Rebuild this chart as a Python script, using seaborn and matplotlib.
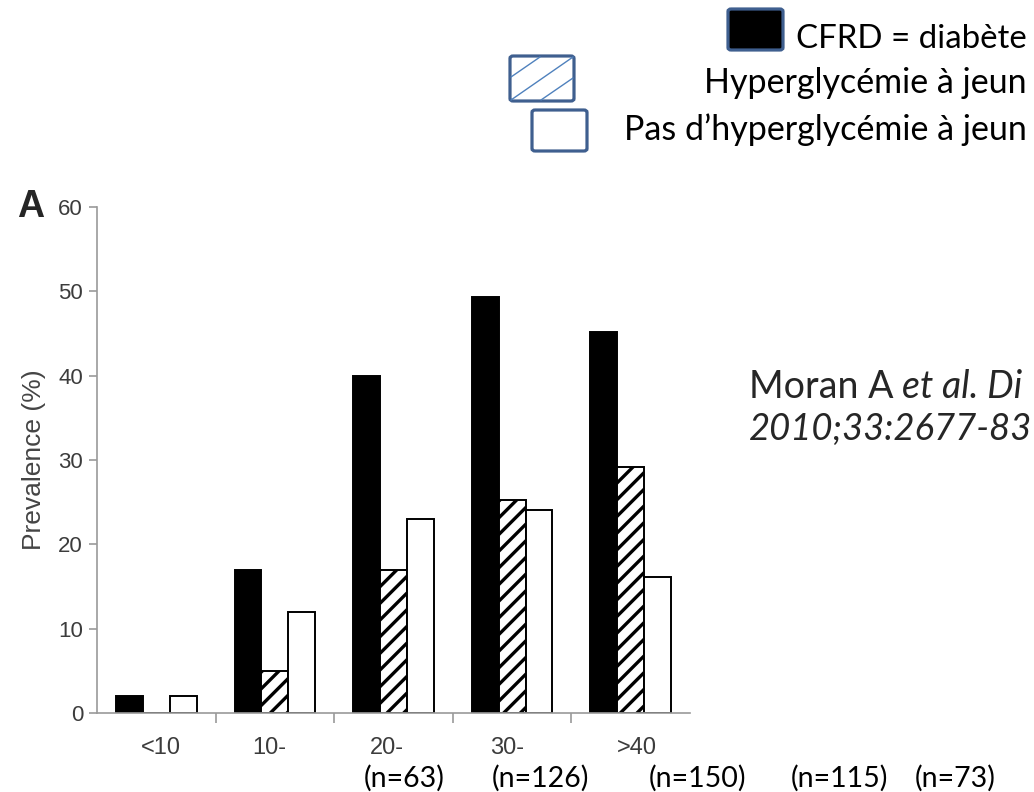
import matplotlib
matplotlib.use("Agg")
import matplotlib.pyplot as plt
import seaborn as sns
import pandas as pd
from matplotlib.patches import FancyBboxPatch
from matplotlib.lines import Line2D

# ---- data ----
age_groups = ["<10", "10-", "20-", "30-", ">40"]
cfrd = [2, 17, 40, 49.3, 45.2]
ifg = [0, 5, 17, 25.3, 29.2]
ngt = [2, 12, 23, 24.1, 16.1]
series_labels = ["CFRD = diabète", "Hyperglycémie à jeun", "Pas d’hyperglycémie à jeun"]
n_labels = ["(n=63)", "(n=126)", "(n=150)", "(n=115)", "(n=73)"]
y_ticks = [0, 10, 20, 30, 40, 50, 60]

W, H = 1034, 792
sns.set_style("ticks")
plt.rcParams["font.family"] = ["Liberation Sans", "DejaVu Sans"]
plt.rcParams["hatch.linewidth"] = 2.4
plt.rcParams["hatch.color"] = "black"

df = pd.DataFrame({
    "age": age_groups * 3,
    "prev": cfrd + ifg + ngt,
    "grp": [series_labels[0]] * 5 + [series_labels[1]] * 5 + [series_labels[2]] * 5,
})

fig = plt.figure(figsize=(W / 100, H / 100), dpi=100)
fig.patch.set_facecolor("white")


def fx(x):
    return x / W


def fy(y):
    return 1 - y / H


ax = fig.add_axes([fx(97), fy(713), (690 - 97) / W, (713 - 207) / H])
sns.barplot(data=df, x="age", y="prev", hue="grp", hue_order=series_labels,
            order=age_groups, palette=["black", "white", "white"], saturation=1,
            width=0.68, edgecolor="black", linewidth=1.4, legend=False, ax=ax)
for bar in ax.containers[1]:
    bar.set_hatch("//")

ax.set_xlim(-0.5, 4.5)
ax.set_ylim(0, 60)
ax.set_yticks(y_ticks)
ax.set_xticks([0.5, 1.5, 2.5, 3.5])
ax.set_xticklabels([])
ax.set_xticks([0.04, 0.95, 1.94, 2.96, 4.05], labels=age_groups, minor=True)
ax.set_xlabel("")
ax.set_ylabel("Prevalence (%)", fontsize=19, color="#444444")
ax.yaxis.set_label_coords(-0.086, 0.5)

for s in ["top", "right"]:
    ax.spines[s].set_visible(False)
for s in ["left", "bottom"]:
    ax.spines[s].set_color("#9a9a9a")
    ax.spines[s].set_linewidth(1.2)

ax.tick_params(axis="y", which="major", direction="out", length=6, width=1.2,
               color="#9a9a9a", labelcolor="#3c3c3c", labelsize=16, pad=4)
ax.tick_params(axis="x", which="major", direction="out", length=7, width=1.2,
               color="#9a9a9a")
ax.tick_params(axis="x", which="minor", length=0, labelcolor="#3c3c3c",
               labelsize=17, pad=17)

# panel letter
fig.text(fx(17), fy(217), "A", fontsize=27, fontweight="bold",
         family=["Liberation Sans", "DejaVu Sans"], va="baseline", ha="left")

# n labels
n_x = [404, 540, 698, 839, 955]
for x, lab in zip(n_x, n_labels):
    fig.text(fx(x), fy(778), lab, fontsize=20.5, family=["Lato", "DejaVu Sans"],
             ha="center", va="center", color="black")

# citation
t1 = fig.text(fx(749), fy(398), "Moran A", fontsize=27, family=["Lato", "DejaVu Sans"],
              ha="left", va="baseline")
fig.canvas.draw()
bb = t1.get_window_extent()
fig.text((bb.x1 + 9) / W, fy(398), "et al. Di", fontsize=27, style="italic",
         family=["Lato", "DejaVu Sans"], ha="left", va="baseline")
fig.text(fx(749), fy(440), "2010;33:2677-83", fontsize=26.3, style="italic",
         family=["Lato", "DejaVu Sans"], ha="left", va="baseline")

# legend boxes
edge_blue = "#3f5f8f"
boxes = [(728, 9, 783, 50, "black"), (510, 56, 574, 101, "white"), (532, 110, 587, 151, "white")]
for (x0, y0, x1, y1, fc) in boxes:
    p = FancyBboxPatch((fx(x0), fy(y1)), (x1 - x0) / W, (y1 - y0) / H,
                       boxstyle="round,pad=0,rounding_size=0.003",
                       transform=fig.transFigure, facecolor=fc, edgecolor=edge_blue,
                       linewidth=2.3, zorder=5)
    fig.patches.append(p)

# thin blue hatch lines in the second legend box
hatch_segs = [((511, 77), (540, 57)), ((511, 100), (573, 57)), ((541, 100), (573, 78))]
for (a, b) in hatch_segs:
    ln = Line2D([fx(a[0]), fx(b[0])], [fy(a[1]), fy(b[1])], transform=fig.transFigure,
                color="#4f81bd", linewidth=1.0, zorder=6)
    fig.lines.append(ln)

# legend labels
leg_y = [48, 93, 140]
leg_size = [23.8, 24.5, 24.5]
for y, lab, fs in zip(leg_y, series_labels, leg_size):
    fig.text(fx(1027), fy(y), lab, fontsize=fs, family=["Lato", "DejaVu Sans"],
             ha="right", va="baseline", color="black")

fig.savefig("out.png", dpi=100, facecolor="white")
